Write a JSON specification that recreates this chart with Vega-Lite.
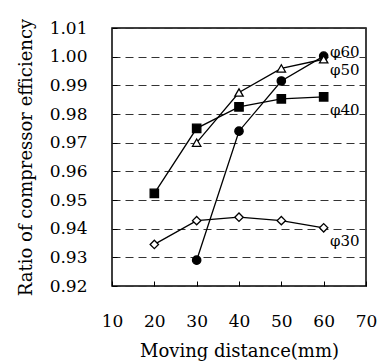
{
  "$schema": "https://vega.github.io/schema/vega-lite/v6.json",
  "width": 254,
  "height": 258,
  "autosize": {"type": "none"},
  "padding": {"left": 112, "top": 28, "right": 21, "bottom": 78},
  "background": "white",
  "config": {
    "view": {"stroke": "black", "strokeWidth": 1.5},
    "font": "DejaVu Serif",
    "axis": {"labelFont": "DejaVu Serif", "titleFont": "DejaVu Serif", "labelColor": "black", "titleColor": "black", "titleFontWeight": "normal", "labelFlush": false, "labelOverlap": false}
  },
  "datasets": {
    "points": [
      {"series": "φ60", "distance": 30, "value": 0.929},
      {"series": "φ60", "distance": 40, "value": 0.974},
      {"series": "φ60", "distance": 50, "value": 0.9915},
      {"series": "φ60", "distance": 60, "value": 1.0002},
      {"series": "φ50", "distance": 30, "value": 0.970},
      {"series": "φ50", "distance": 40, "value": 0.9875},
      {"series": "φ50", "distance": 50, "value": 0.9959},
      {"series": "φ50", "distance": 60, "value": 0.9991},
      {"series": "φ40", "distance": 20, "value": 0.9523},
      {"series": "φ40", "distance": 30, "value": 0.975},
      {"series": "φ40", "distance": 40, "value": 0.9825},
      {"series": "φ40", "distance": 50, "value": 0.9853},
      {"series": "φ40", "distance": 60, "value": 0.986},
      {"series": "φ30", "distance": 20, "value": 0.9345},
      {"series": "φ30", "distance": 30, "value": 0.9428},
      {"series": "φ30", "distance": 40, "value": 0.944},
      {"series": "φ30", "distance": 50, "value": 0.9428},
      {"series": "φ30", "distance": 60, "value": 0.9403}
    ],
    "labels": [
      {"label": "φ60", "distance": 65, "value": 1.0018},
      {"label": "φ50", "distance": 65, "value": 0.9955},
      {"label": "φ40", "distance": 65, "value": 0.9814},
      {"label": "φ30", "distance": 65, "value": 0.9358}
    ]
  },
  "encoding": {
    "x": {
      "field": "distance",
      "type": "quantitative",
      "scale": {"domain": [10, 70], "nice": false, "zero": false},
      "axis": {
        "values": [10, 20, 30, 40, 50, 60, 70],
        "grid": false,
        "domain": false,
        "tickSize": -5,
        "tickColor": "black",
        "labelFontSize": 17,
        "labelPadding": 32,
        "title": "Moving distance(mm)",
        "titleFontSize": 18,
        "titlePadding": 13
      }
    },
    "y": {
      "field": "value",
      "type": "quantitative",
      "scale": {"domain": [0.92, 1.01], "nice": false, "zero": false},
      "axis": {
        "values": [0.92, 0.93, 0.94, 0.95, 0.96, 0.97, 0.98, 0.99, 1.0, 1.01],
        "format": ".2f",
        "grid": true,
        "gridDash": [8, 5],
        "gridColor": "#333333",
        "gridWidth": 1,
        "domain": false,
        "tickSize": -5,
        "tickColor": "black",
        "labelFontSize": 17,
        "labelPadding": 30,
        "title": "Ratio of compressor efficiency",
        "titleFontSize": 18,
        "titlePadding": 14
      }
    }
  },
  "layer": [
    {
      "data": {"name": "points"},
      "mark": {"type": "line", "color": "black", "strokeWidth": 1.3},
      "encoding": {"detail": {"field": "series"}}
    },
    {
      "data": {"name": "points"},
      "mark": {"type": "point", "opacity": 1, "stroke": "black", "strokeWidth": 1.3, "size": 70},
      "encoding": {
        "shape": {"field": "series", "scale": {"domain": ["φ60", "φ50", "φ40", "φ30"], "range": ["circle", "triangle-up", "square", "diamond"]}, "legend": null},
        "fill": {"field": "series", "scale": {"domain": ["φ60", "φ50", "φ40", "φ30"], "range": ["black", "white", "black", "white"]}, "legend": null}
      }
    },
    {
      "data": {"name": "labels"},
      "mark": {"type": "text", "fontSize": 15, "color": "black", "align": "center", "baseline": "middle"},
      "encoding": {"text": {"field": "label"}}
    }
  ]
}
